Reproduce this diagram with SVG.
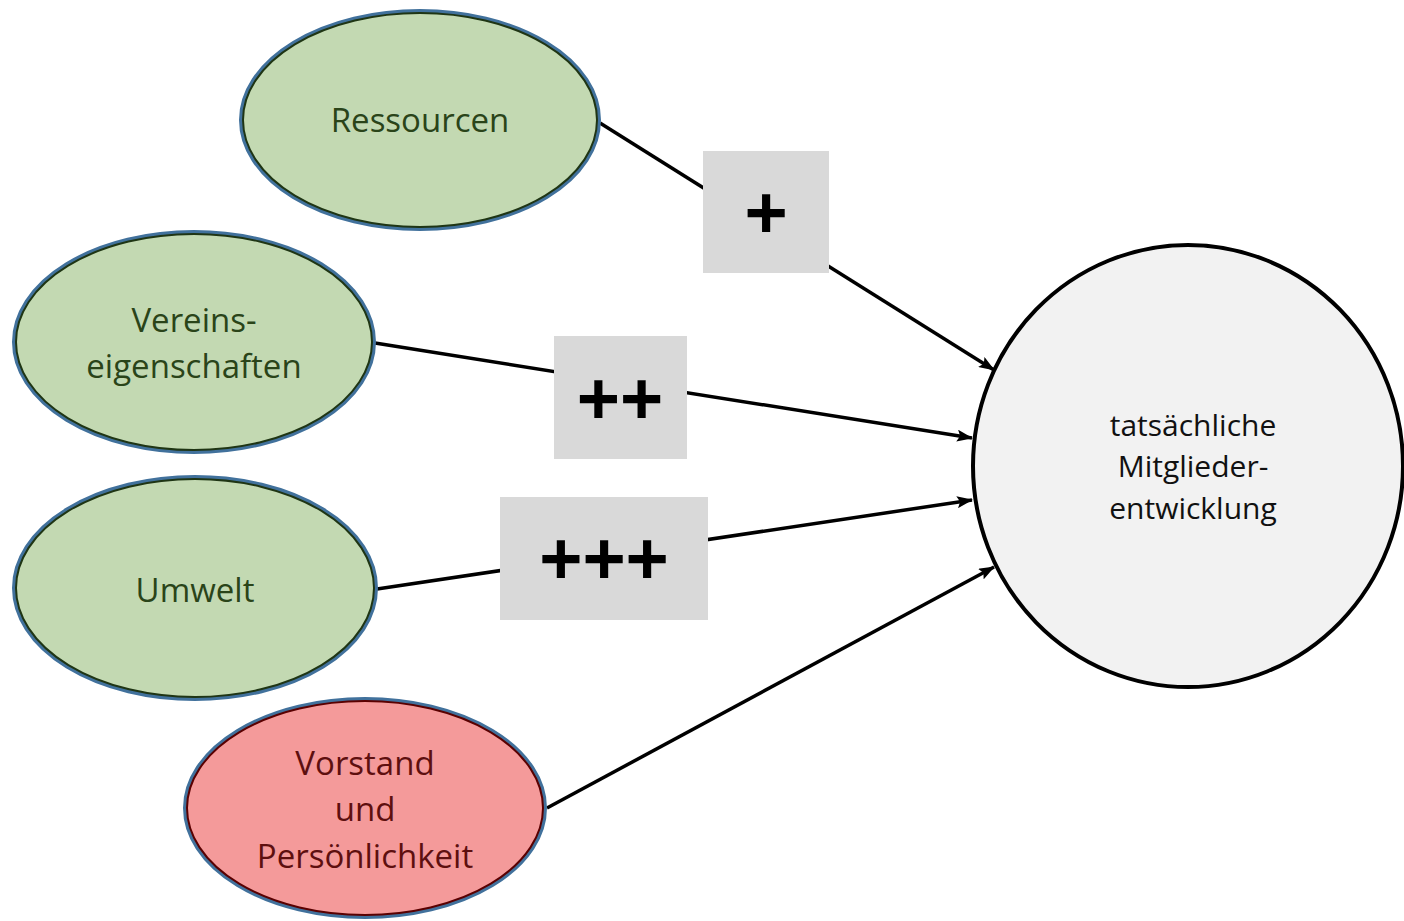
<svg xmlns="http://www.w3.org/2000/svg" width="1404" height="921" viewBox="0 0 1404 921">
<defs>
<marker id="arr" markerWidth="16" markerHeight="12" refX="15" refY="6" orient="auto" markerUnits="userSpaceOnUse">
<path d="M0,0 L16,6 L0,12 L3,6 Z" fill="#000"/>
</marker>
<style>
.g{fill:#c3d9b2}
.r{fill:#f49a9a}
.ob{fill:none;stroke:#41719c;stroke-width:4}
.ig{fill:none;stroke:#1f3514;stroke-width:2}
.ir{fill:none;stroke:#5a0000;stroke-width:2}
.tg{font-family:"Open Sans","Liberation Sans",sans-serif;font-size:33px;fill:#2a4419;text-anchor:middle}
.tr{font-family:"Open Sans","Liberation Sans",sans-serif;font-size:33px;fill:#5e0f0f;text-anchor:middle}
.tc{font-family:"Open Sans","Liberation Sans",sans-serif;font-size:30px;fill:#111;text-anchor:middle}
.box{fill:#d9d9d9}
.pl{font-family:"Liberation Sans","Open Sans",sans-serif;font-weight:bold;font-size:74px;fill:#000;text-anchor:middle}
.ln{stroke:#000;stroke-width:3.5;fill:none}
</style>
</defs>
<rect width="1404" height="921" fill="#fff"/>
<g id="connectors">
<line class="ln" x1="600" y1="123" x2="994" y2="370" marker-end="url(#arr)"/>
<line class="ln" x1="375" y1="343" x2="972" y2="438" marker-end="url(#arr)"/>
<line class="ln" x1="377" y1="589" x2="972" y2="500" marker-end="url(#arr)"/>
<line class="ln" x1="547" y1="808" x2="994" y2="567" marker-end="url(#arr)"/>
</g>
<g id="box1"><rect class="box" x="703" y="151" width="126" height="122"/><text class="pl" x="766" y="238">+</text></g>
<g id="box2"><rect class="box" x="554" y="336" width="133" height="123"/><text class="pl" x="620" y="424">++</text></g>
<g id="box3"><rect class="box" x="500" y="497" width="208" height="123"/><text class="pl" x="604" y="584">+++</text></g>
<g id="ressourcen">
<ellipse class="g" cx="420" cy="120" rx="179" ry="109"/>
<ellipse class="ob" cx="420" cy="120" rx="179" ry="109"/>
<ellipse class="ig" cx="420" cy="120" rx="177" ry="107"/>
<text class="tg" x="420" y="132">Ressourcen</text>
</g>
<g id="vereinseigenschaften">
<ellipse class="g" cx="194" cy="342" rx="180" ry="110"/>
<ellipse class="ob" cx="194" cy="342" rx="180" ry="110"/>
<ellipse class="ig" cx="194" cy="342" rx="178" ry="108"/>
<text class="tg" x="194" y="332">Vereins-</text>
<text class="tg" x="194" y="378">eigenschaften</text>
</g>
<g id="umwelt">
<ellipse class="g" cx="195" cy="588" rx="181" ry="111"/>
<ellipse class="ob" cx="195" cy="588" rx="181" ry="111"/>
<ellipse class="ig" cx="195" cy="588" rx="179" ry="109"/>
<text class="tg" x="195" y="602">Umwelt</text>
</g>
<g id="vorstand">
<ellipse class="r" cx="365" cy="808" rx="180" ry="109"/>
<ellipse class="ob" cx="365" cy="808" rx="180" ry="109"/>
<ellipse class="ir" cx="365" cy="808" rx="178" ry="107"/>
<text class="tr" x="365" y="775">Vorstand</text>
<text class="tr" x="365" y="821">und</text>
<text class="tr" x="365" y="868">Persönlichkeit</text>
</g>
<g id="mitgliederentwicklung">
<ellipse cx="1188" cy="466" rx="215" ry="221" fill="#f2f2f2" stroke="#000" stroke-width="4"/>
<text class="tc" x="1193" y="436">tatsächliche</text>
<text class="tc" x="1193" y="477">Mitglieder-</text>
<text class="tc" x="1193" y="519">entwicklung</text>
</g>
</svg>
